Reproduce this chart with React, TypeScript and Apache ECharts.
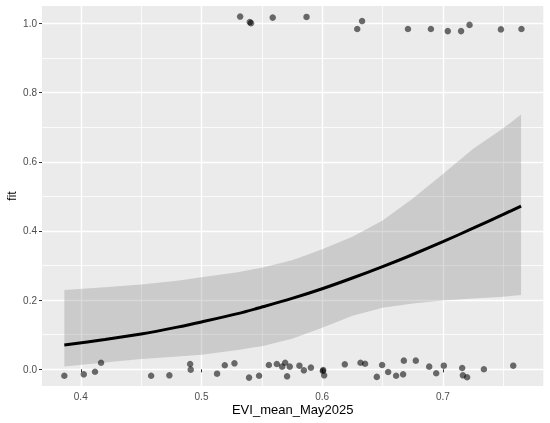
import React, { useEffect, useRef } from "react";
import * as echarts from "echarts";

// Observed (jittered) points
const obsX = [
  0.532, 0.540, 0.541, 0.559, 0.587, 0.629, 0.633, 0.671, 0.690, 0.704, 0.715, 0.722, 0.748, 0.765,
  0.3864, 0.4025, 0.4118, 0.4168, 0.4583, 0.4734, 0.4906, 0.4911, 0.5129, 0.5193, 0.5273, 0.5394,
  0.5477, 0.5558, 0.5624, 0.5668, 0.5693, 0.5709, 0.5731, 0.5811, 0.5848, 0.5906, 0.6005, 0.6008,
  0.6016, 0.6187, 0.6317, 0.6355, 0.6452, 0.6496, 0.6546, 0.6612, 0.667, 0.6676, 0.6775, 0.6886,
  0.6944, 0.7007, 0.7159, 0.7165, 0.72, 0.7339, 0.7582,
];
const obsY = [
  1.020, 1.004, 1.001, 1.017, 1.019, 0.984, 1.007, 0.984, 0.984, 0.978, 0.978, 0.996, 0.983, 0.984,
  -0.0185, -0.0145, -0.007, 0.019, -0.0185, -0.0174, 0.0153, -0.001, -0.0127, 0.0116, 0.0173, -0.024,
  -0.0185, 0.0124, 0.0153, 0.0077, 0.019, -0.0203, 0.0077, 0.0105, -0.003, 0.0048, -0.005, -0.002,
  -0.0174, 0.0144, 0.019, 0.016, -0.022, 0.0124, -0.0078, -0.0185, -0.0145, 0.025, 0.025, 0.0077,
  -0.0116, 0.0105, 0.0038, -0.0174, -0.023, 0.0, 0.0105,
];

// Fitted curve and confidence band
const fitX = [0.3864, 0.42, 0.45, 0.48, 0.5, 0.53, 0.55, 0.575, 0.6, 0.625, 0.65, 0.675, 0.7, 0.725, 0.75, 0.7647];
const fitY = [0.070, 0.086, 0.102, 0.122, 0.137, 0.161, 0.180, 0.205, 0.233, 0.264, 0.297, 0.332, 0.369, 0.408, 0.448, 0.472];
const upperY = [0.229, 0.237, 0.245, 0.256, 0.266, 0.281, 0.294, 0.315, 0.347, 0.383, 0.430, 0.494, 0.565, 0.638, 0.697, 0.737];
const lowerY = [0.008, 0.020, 0.030, 0.037, 0.042, 0.056, 0.067, 0.088, 0.120, 0.155, 0.178, 0.190, 0.199, 0.205, 0.210, 0.215];

// Axes
const xMajor = [0.4, 0.5, 0.6, 0.7];
const xMinor = [0.45, 0.55, 0.65, 0.75];
const yMajor = [0, 0.2, 0.4, 0.6, 0.8, 1.0];
const yMinor = [0.1, 0.3, 0.5, 0.7, 0.9];
const xRange = [0.3679, 0.7831];
const yRange = [-0.0483, 1.0506];

const FONT = "'Liberation Sans', Arial, Helvetica, sans-serif";

export default function App() {
  const ref = useRef<HTMLDivElement>(null);
  useEffect(() => {
    if (!ref.current) return;
    const chart = echarts.init(ref.current, undefined, { renderer: "svg" });
    const band = fitX.map((x, i) => [x, lowerY[i], upperY[i]]);
    const option: any = {
      animation: false,
      textStyle: { fontFamily: FONT },
      grid: {
        left: 42,
        right: 6.7,
        top: 6,
        bottom: 37,
        show: true,
        backgroundColor: "#EBEBEB",
        borderWidth: 0,
        containLabel: false,
        outerBoundsMode: "none",
      },
      xAxis: [
        {
          type: "value",
          min: xRange[0],
          max: xRange[1],
          position: "bottom",
          axisLine: { show: false },
          axisTick: { show: true, length: 3, customValues: xMajor, lineStyle: { color: "#333333", width: 1 } },
          axisLabel: {
            customValues: xMajor,
            color: "#4D4D4D",
            fontSize: 10,
            margin: 5,
            fontFamily: FONT,
            formatter: (v: number) => v.toFixed(1),
          },
          splitLine: { show: true, lineStyle: { color: "#FFFFFF", width: 1.4 } },
          name: "EVI_mean_May2025",
          nameLocation: "middle",
          nameGap: 17,
          nameMoveOverlap: false,
          nameTextStyle: { color: "#000000", fontSize: 13, fontFamily: FONT },
        },
        {
          type: "value",
          min: xRange[0],
          max: xRange[1],
          position: "top",
          axisLine: { show: false },
          axisTick: { show: false, customValues: xMinor },
          axisLabel: { show: false, customValues: xMinor },
          splitLine: { show: true, lineStyle: { color: "#FFFFFF", width: 0.8 } },
        },
      ],
      yAxis: [
        {
          type: "value",
          min: yRange[0],
          max: yRange[1],
          position: "left",
          axisLine: { show: false },
          axisTick: { show: true, length: 3, customValues: yMajor, lineStyle: { color: "#333333", width: 1 } },
          axisLabel: {
            customValues: yMajor,
            color: "#4D4D4D",
            fontSize: 10,
            margin: 5,
            fontFamily: FONT,
            formatter: (v: number) => v.toFixed(1),
          },
          splitLine: { show: true, lineStyle: { color: "#FFFFFF", width: 1.4 } },
          name: "fit",
          nameLocation: "middle",
          nameGap: 24,
          nameMoveOverlap: false,
          nameRotate: 90,
          nameTextStyle: { color: "#000000", fontSize: 12, fontFamily: FONT },
        },
        {
          type: "value",
          min: yRange[0],
          max: yRange[1],
          position: "right",
          axisLine: { show: false },
          axisTick: { show: false, customValues: yMinor },
          axisLabel: { show: false, customValues: yMinor },
          splitLine: { show: true, lineStyle: { color: "#FFFFFF", width: 0.8 } },
        },
      ],
      series: [
        {
          type: "custom",
          xAxisIndex: 0,
          yAxisIndex: 0,
          data: band,
          encode: { x: 0, y: [1, 2] },
          silent: true,
          z: 2,
          renderItem: (params: any, api: any) => {
            if (params.dataIndex !== 0) return null;
            const top = band.map((d) => api.coord([d[0], d[2]]));
            const bot = band.slice().reverse().map((d) => api.coord([d[0], d[1]]));
            return {
              type: "polygon",
              shape: { points: top.concat(bot) },
              style: { fill: "rgba(128,128,128,0.3)" },
            };
          },
        },
        {
          type: "line",
          xAxisIndex: 0,
          yAxisIndex: 0,
          data: fitX.map((x, i) => [x, fitY[i]]),
          smooth: 0.3,
          showSymbol: false,
          symbol: "none",
          z: 3,
          lineStyle: { color: "#000000", width: 3 },
        },
        {
          type: "scatter",
          xAxisIndex: 0,
          yAxisIndex: 0,
          data: obsX.map((x, i) => [x, obsY[i]]),
          symbolSize: 6.5,
          z: 4,
          itemStyle: { color: "rgba(0,0,0,0.7)" },
        },
      ],
    };
    chart.setOption(option);
    return () => chart.dispose();
  }, []);
  return (
    <div
      ref={ref}
      style={{ position: "fixed", left: 0, top: 0, width: 550, height: 423 }}
    />
  );
}
